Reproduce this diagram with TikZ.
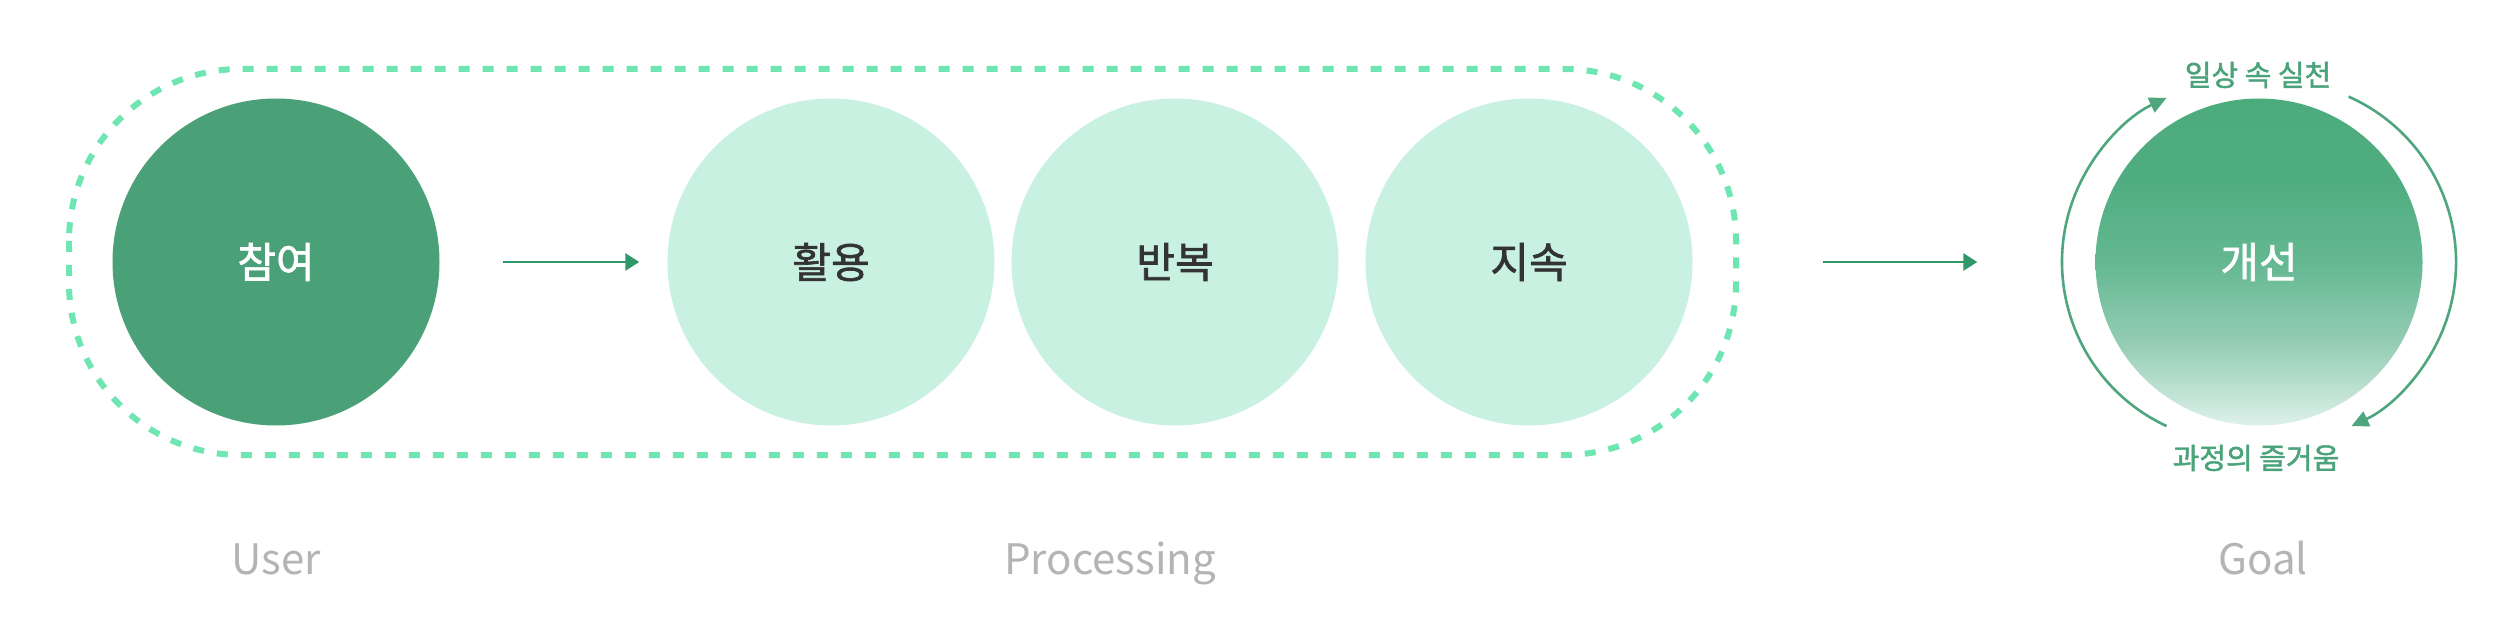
\documentclass[tikz,border=0pt]{standalone}
\usepackage{fontspec}
\setmainfont{Noto Sans CJK KR}
\newfontfamily\medfont{Noto Sans CJK KR}[BoldFont={Noto Sans CJK KR}, BoldFeatures={FakeBold=1.6}]
\usetikzlibrary{arrows.meta}
\definecolor{darkg}{HTML}{4AA077}
\definecolor{lightg}{HTML}{C8F1E2}
\definecolor{dashg}{HTML}{6EE6B2}
\definecolor{arrg}{HTML}{2E9868}
\definecolor{orbg}{HTML}{4FA67E}
\definecolor{labg}{HTML}{4BA37A}
\definecolor{greyt}{HTML}{B4B4B4}
\definecolor{gtop}{HTML}{4CAB7C}
\definecolor{gq1}{HTML}{50AD80}
\definecolor{gmid}{HTML}{64B891}
\definecolor{gq3}{HTML}{95CDB4}
\definecolor{gbot}{HTML}{DDF1EA}
\pgfdeclareverticalshading{goalshade}{100bp}{color(0bp)=(gbot); color(25bp)=(gbot); color(37.5bp)=(gq3); color(50bp)=(gmid); color(62.5bp)=(gq1); color(75bp)=(gtop); color(100bp)=(gtop)}
\tikzset{
  disc/.style={circle, inner sep=0pt, minimum size=327pt, draw=none},
  ctext/.style={font=\fontsize{42}{50}\medfont\bfseries},
  flow/.style={draw=arrg, line width=2.8pt, -{Triangle[length=14pt,width=17pt]}},
  orbit/.style={draw=orbg, line width=2.6pt, -{Triangle[length=17pt,width=16pt]}},
  orblab/.style={text=labg, font=\fontsize{29}{34}\medfont\bfseries},
  foot/.style={text=greyt, font=\fontsize{42}{50}\selectfont, anchor=base},
  groupbox/.style={draw=dashg, line width=6pt, dash pattern=on 11pt off 13pt, rounded corners=172pt}
}
\begin{document}
\begin{tikzpicture}[x=1pt,y=-1pt]
\useasboundingbox[fill=white] (0,0) rectangle (2510,620);
% group box
\draw[groupbox] (69,69) rectangle (1736,455);
% circles
\node[disc, fill=darkg, text=white, ctext] (p) at (276,262) {참여};
\node[disc, fill=lightg, text={black!80}, ctext] (h) at (831,262) {활용};
\node[disc, fill=lightg, text={black!80}, ctext] (b) at (1175,262) {반복};
\node[disc, fill=lightg, text={black!80}, ctext] (j) at (1529,262) {지속};
\node[disc, shading=goalshade, text=white, ctext] (g) at (2259,262) {개선};
% flow arrows
\draw[flow, shorten <=63pt, shorten >=28pt] (p) -- (h);
\draw[flow, shorten <=130pt, shorten >=118pt] (j) -- (g);
% orbit arrows
\coordinate (lc) at (2243,262);
\coordinate (rc) at (2275,262);
\draw[orbit] (lc) ++(115:181) arc[start angle=115, end angle=245, radius=181];
\draw[orbit] (rc) ++(-66:181) arc[start angle=-66, end angle=65, radius=181];
% orbit labels
\node[orblab] (t1) at (2258,75) {일상 속 실천};
\node[orblab] (t2) at (2256,458) {과정의 즐거움};
% footer labels
\node[foot] (u) at (276,574) {User};
\node[foot] (pr) at (1110,574) {Processing};
\node[foot] (go) at (2263,574) {Goal};
\end{tikzpicture}
\end{document}
